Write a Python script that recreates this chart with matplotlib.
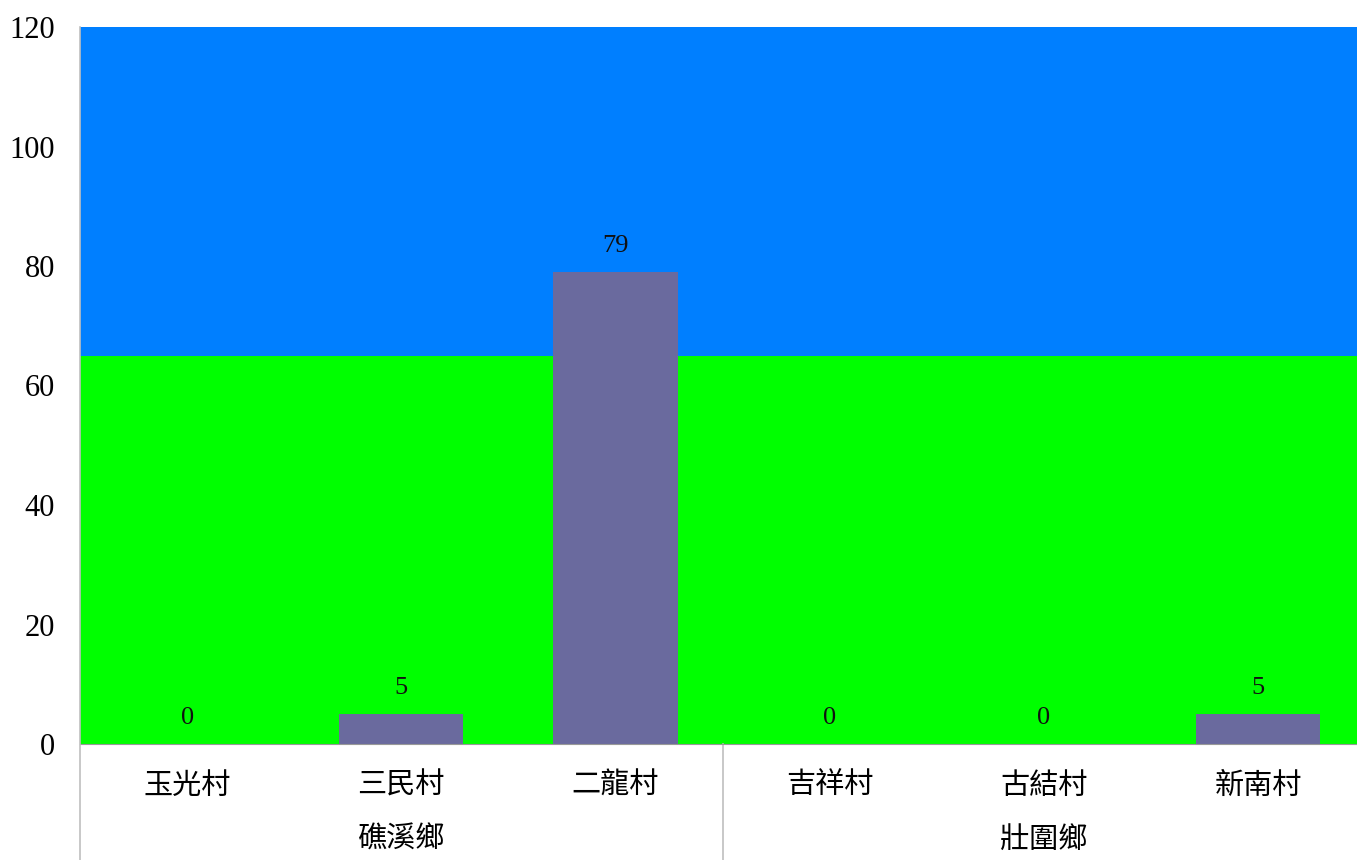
import matplotlib.pyplot as plt
import matplotlib.transforms as mtransforms
import numpy as np

plt.rcParams['font.family'] = ['Liberation Serif', 'Noto Sans CJK TC']

# Data
villages = ['玉光村', '三民村', '二龍村', '吉祥村', '古結村', '新南村']
townships = ['礁溪鄉', '壯圍鄉']
township_sizes = [3, 3]
counts = [0, 5, 79, 0, 0, 5]
band_edges = [0, 65, 120]

GREEN = '#00FF00'
BLUE = '#007FFF'
BAR = '#6A6A9E'
LINE = '#BFBFBF'

fig = plt.figure(figsize=(13.57, 8.6), dpi=100)
# plot area runs slightly past the right edge of the figure
ax = fig.add_axes([80 / 1357, 116 / 860, 1285 / 1357, 717 / 860])

# Background bands
ax.axhspan(band_edges[0], band_edges[1], color=GREEN, zorder=0, lw=0)
ax.axhspan(band_edges[1], band_edges[2], color=BLUE, zorder=0, lw=0)

x = np.arange(len(villages))
bars = ax.bar(x, counts, width=0.58, color=BAR, zorder=2)
for xi, v in zip(x, counts):
    ax.annotate(str(v), xy=(xi, v), xytext=(0, 19), textcoords='offset points',
                ha='center', va='center', fontsize=19, color='#111111',
                family='Liberation Serif')

ax.set_xlim(-0.5, len(villages) - 0.5)
ax.set_ylim(0, 120)
ax.set_yticks(np.arange(0, 121, 20))
ax.tick_params(axis='y', length=0, pad=18, labelsize=22)
ax.set_xticks([])

for s in ['top', 'right']:
    ax.spines[s].set_visible(False)
ax.spines['left'].set_visible(False)
ax.spines['bottom'].set_color('#999999')

# Category labels (two levels)
trans = mtransforms.blended_transform_factory(ax.transData, ax.transAxes)
for xi, name in zip(x, villages):
    ax.text(xi, -42 / 717, name, transform=trans, ha='center', va='center',
            fontsize=21, family=['Noto Sans CJK TC'])

start = 0
for name, n in zip(townships, township_sizes):
    mid = start + (n - 1) / 2
    ax.text(mid, -96 / 717, name, transform=trans, ha='center', va='center',
            fontsize=21, family=['Noto Sans CJK TC'])
    start += n

# Left axis line and group separators
ax.plot([-0.5, -0.5], [1, -116 / 717], transform=trans, color=LINE, lw=1.2,
        clip_on=False, zorder=3)
sep = 0
for n in township_sizes[:-1]:
    sep += n
    ax.plot([sep - 0.5, sep - 0.5], [0, -116 / 717], transform=trans,
            color=LINE, lw=1.2, clip_on=False)

fig.savefig('out.png', dpi=100)
